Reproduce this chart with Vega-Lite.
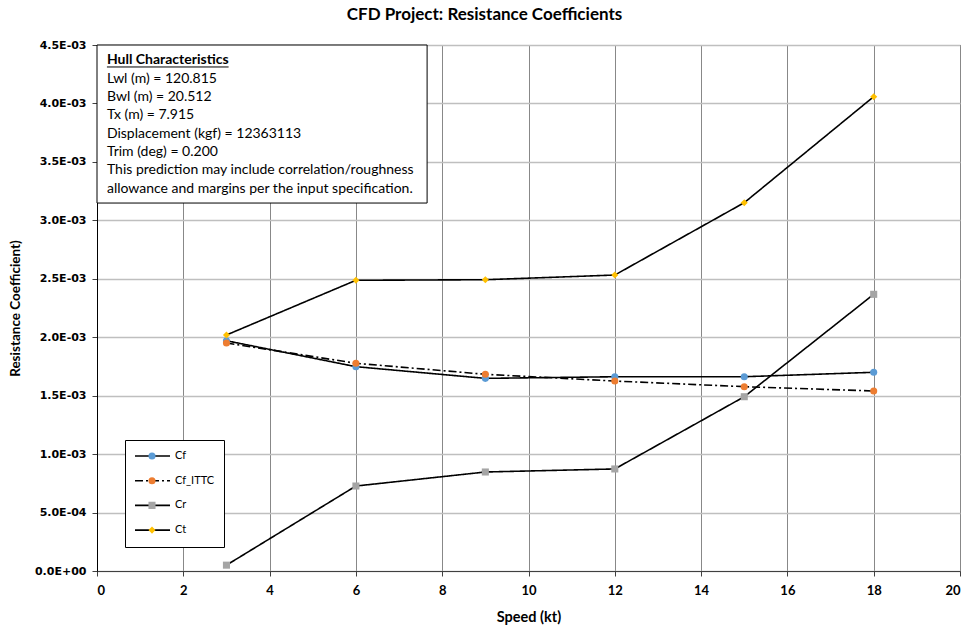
{
  "$schema": "https://vega.github.io/schema/vega-lite/v6.json",
  "width": 863,
  "height": 526,
  "autosize": "none",
  "padding": {"left": 97, "top": 45, "right": 10, "bottom": 57},
  "background": "white",
  "title": {"text": "CFD Project: Resistance Coefficients", "font": "Lato", "fontSize": 17, "fontWeight": "bold", "color": "black", "anchor": "middle", "frame": "group", "dx": -44, "offset": 15},
  "config": {"view": {"stroke": "black", "strokeWidth": 1}},
  "data": {"values": [
    {"speed": 3, "series": "Cf", "value": 0.001970},
    {"speed": 6, "series": "Cf", "value": 0.001748},
    {"speed": 9, "series": "Cf", "value": 0.001648},
    {"speed": 12, "series": "Cf", "value": 0.001662},
    {"speed": 15, "series": "Cf", "value": 0.001662},
    {"speed": 18, "series": "Cf", "value": 0.001700},
    {"speed": 3, "series": "Cf_ITTC", "value": 0.001951},
    {"speed": 6, "series": "Cf_ITTC", "value": 0.001777},
    {"speed": 9, "series": "Cf_ITTC", "value": 0.001683},
    {"speed": 12, "series": "Cf_ITTC", "value": 0.001625},
    {"speed": 15, "series": "Cf_ITTC", "value": 0.001577},
    {"speed": 18, "series": "Cf_ITTC", "value": 0.001540},
    {"speed": 3, "series": "Cr", "value": 0.000050},
    {"speed": 6, "series": "Cr", "value": 0.000727},
    {"speed": 9, "series": "Cr", "value": 0.000847},
    {"speed": 12, "series": "Cr", "value": 0.000873},
    {"speed": 15, "series": "Cr", "value": 0.001491},
    {"speed": 18, "series": "Cr", "value": 0.002367},
    {"speed": 3, "series": "Ct", "value": 0.002019},
    {"speed": 6, "series": "Ct", "value": 0.002487},
    {"speed": 9, "series": "Ct", "value": 0.002492},
    {"speed": 12, "series": "Ct", "value": 0.002532},
    {"speed": 15, "series": "Ct", "value": 0.003151},
    {"speed": 18, "series": "Ct", "value": 0.004058}
  ]},
  "layer": [
    {
      "mark": {"type": "line", "interpolate": "linear", "color": "black", "strokeWidth": 1.6},
      "encoding": {
        "x": {"field": "speed", "type": "quantitative", "scale": {"domain": [0, 20], "nice": false, "zero": false},
          "axis": {"values": [0, 2, 4, 6, 8, 10, 12, 14, 16, 18, 20], "grid": true, "gridColor": "#888888", "gridWidth": 1, "domainColor": "#404040", "tickColor": "#404040", "tickSize": 5, "labelFont": "Lato", "labelFontWeight": "bold", "labelFontSize": 13, "labelColor": "black", "labelPadding": 8, "title": "Speed (kt)", "titleFont": "Lato", "titleFontSize": 14.5, "titleFontWeight": "bold", "titleColor": "black", "titlePadding": 13}},
        "y": {"field": "value", "type": "quantitative", "scale": {"domain": [0, 0.0045], "nice": false},
          "axis": {"values": [0, 0.0005, 0.001, 0.0015, 0.002, 0.0025, 0.003, 0.0035, 0.004, 0.0045], "grid": true, "gridColor": "#BFBFBF", "gridWidth": 1.3, "domainColor": "black", "tickColor": "#404040", "tickSize": 5, "labelFont": "DejaVu Sans", "labelFontWeight": "bold", "labelFontSize": 11, "labelColor": "black", "labelPadding": 6, "labelExpr": "replace(replace(format(datum.value, '.1e'), 'e-', 'E-0'), 'e+', 'E+0')", "title": "Resistance Coefficient)", "titleFont": "Lato", "titleFontSize": 13.5, "titleFontWeight": "bold", "titleColor": "black", "titlePadding": 12}},
        "strokeDash": {"field": "series", "type": "nominal",
          "scale": {"domain": ["Cf", "Cf_ITTC", "Cr", "Ct"], "range": [[1, 0], [8, 3, 2, 3], [1, 0], [1, 0]]},
          "legend": {"orient": "none", "legendX": 28, "legendY": 395, "title": null, "symbolType": "stroke", "symbolStrokeColor": "black", "symbolStrokeWidth": 1.6, "symbolSize": 1225, "clipHeight": 14, "rowPadding": 10.7, "padding": 9, "strokeColor": "black", "fillColor": "white", "labelFont": "Lato", "labelFontSize": 11, "labelColor": "black", "labelOffset": 4, "zindex": 1}}
      }
    },
    {
      "mark": {"type": "point", "filled": true, "opacity": 1, "strokeWidth": 0},
      "encoding": {
        "x": {"field": "speed", "type": "quantitative"},
        "y": {"field": "value", "type": "quantitative"},
        "color": {"field": "series", "type": "nominal", "scale": {"range": ["#5B9BD5", "#ED7D31", "#A5A5A5", "#FFC000"]},
          "legend": {"orient": "none", "legendX": 28, "legendY": 395, "title": null, "symbolStrokeWidth": 0, "symbolOffset": 12.5, "clipHeight": 14, "rowPadding": 10.7, "padding": 9, "labelExpr": "''", "labelFontSize": 11, "zindex": 2}},
        "shape": {"field": "series", "type": "nominal", "scale": {"range": ["circle", "circle", "square", "diamond"]},
          "legend": {"orient": "none", "legendX": 28, "legendY": 395, "title": null, "symbolStrokeWidth": 0, "symbolOffset": 12.5, "clipHeight": 14, "rowPadding": 10.7, "padding": 9, "labelExpr": "''", "labelFontSize": 11, "zindex": 2}},
        "size": {"field": "series", "type": "nominal", "scale": {"range": [50, 50, 52, 95]},
          "legend": {"orient": "none", "legendX": 28, "legendY": 395, "title": null, "symbolStrokeWidth": 0, "symbolOffset": 12.5, "clipHeight": 14, "rowPadding": 10.7, "padding": 9, "labelExpr": "''", "labelFontSize": 11, "zindex": 2}}
      }
    },
    {
      "data": {"values": [{}]},
      "mark": {"type": "rect", "fill": "white", "stroke": "black", "strokeWidth": 1},
      "encoding": {
        "x": {"datum": 0},
        "x2": {"datum": 7.65},
        "y": {"datum": 0.0045},
        "y2": {"datum": 0.003148}
      }
    },
    {
      "data": {"values": [{}]},
      "mark": {"type": "text", "text": "Hull Characteristics", "font": "Lato", "fontSize": 14, "fontWeight": "bold", "align": "left", "baseline": "middle", "color": "black"},
      "encoding": {
        "x": {"datum": 0.23},
        "y": {"datum": 0.00437}
      }
    },
    {
      "data": {"values": [{}]},
      "mark": {"type": "rule", "color": "black", "strokeWidth": 1},
      "encoding": {
        "x": {"datum": 0.23},
        "x2": {"datum": 3.05},
        "y": {"datum": 0.004312}
      }
    },
    {
      "data": {"values": [{}]},
      "mark": {"type": "text", "text": ["Lwl (m) = 120.815", "Bwl (m) = 20.512", "Tx (m) = 7.915", "Displacement (kgf) = 12363113", "Trim (deg) = 0.200", "This prediction may include correlation/roughness", "allowance and margins per the input specification."], "font": "Lato", "fontSize": 14, "lineHeight": 18.3, "align": "left", "baseline": "top", "color": "black"},
      "encoding": {
        "x": {"datum": 0.23},
        "y": {"datum": 0.00427}
      }
    }
  ]
}
